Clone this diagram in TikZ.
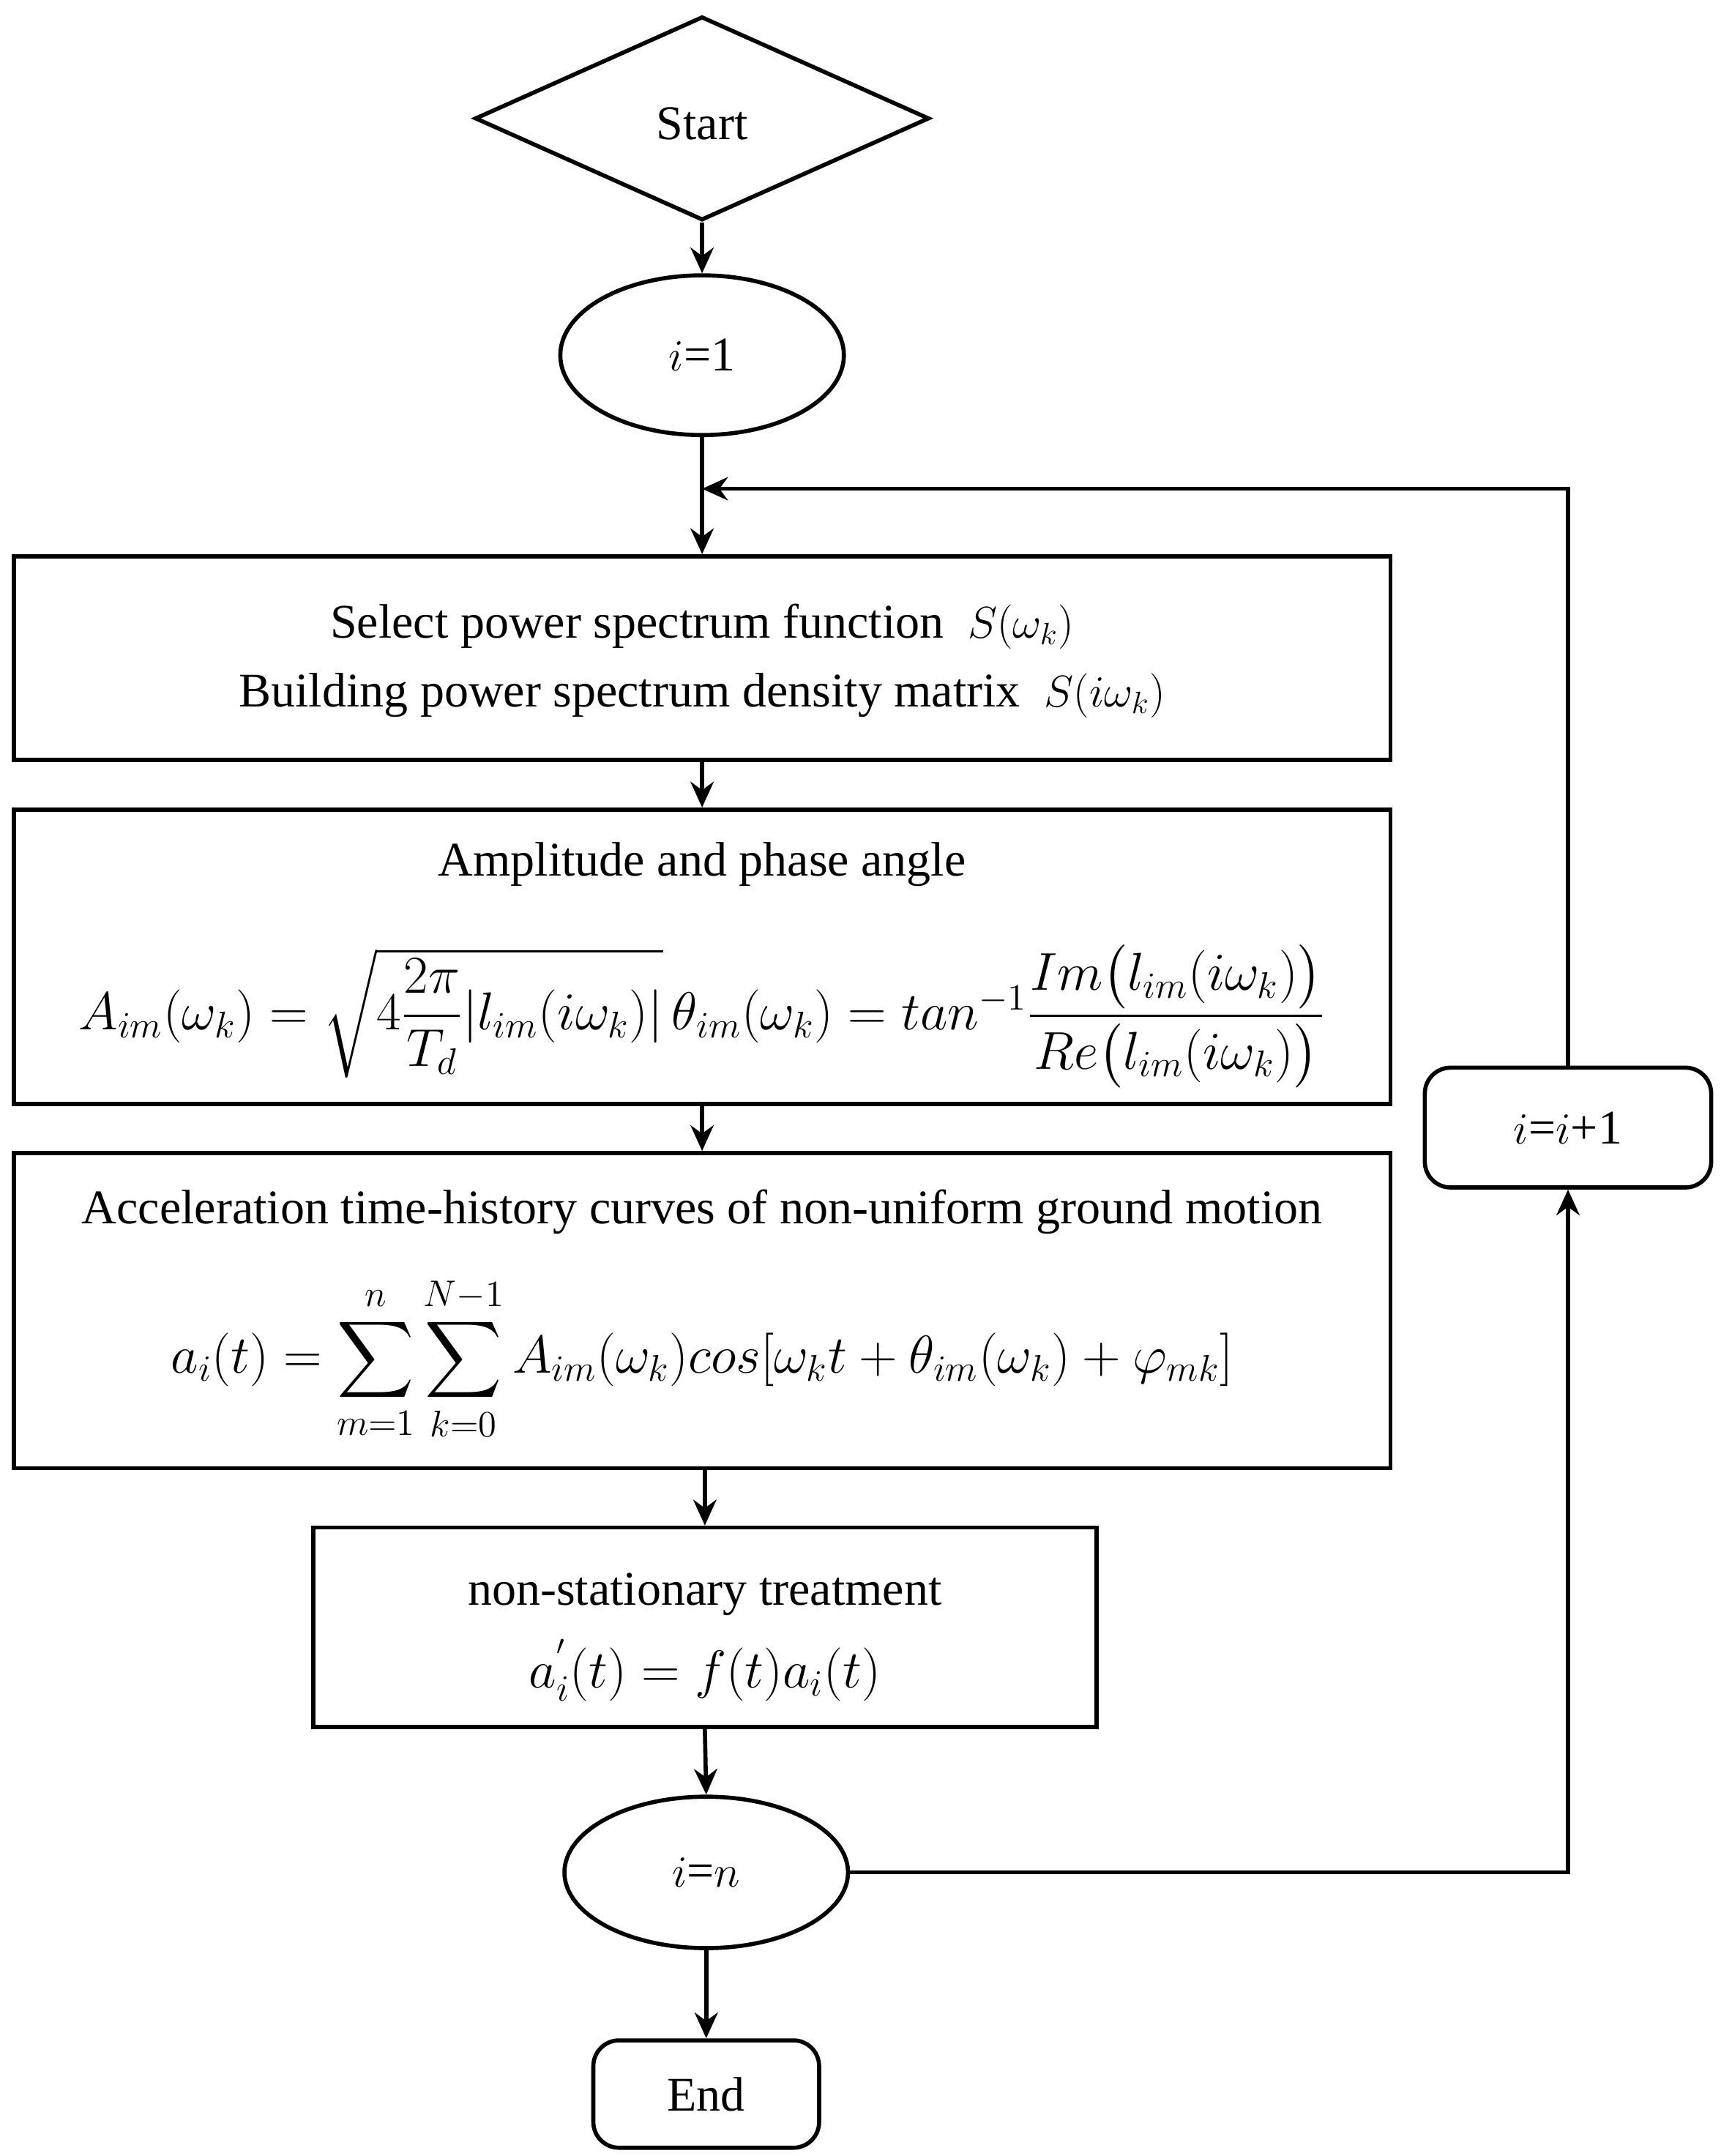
\documentclass[tikz,border=0pt]{standalone}
\usepackage{amsmath}
\usepackage{fontspec}
\setmainfont{Liberation Serif}
\usetikzlibrary{shapes.geometric,arrows.meta}
\begin{document}
\begin{tikzpicture}[x=0.01881cm,y=-0.01881cm,
 every node/.style={font=\fontsize{18.8}{24}\selectfont},
 box/.style={draw,line width=1.6pt,inner sep=0pt},
 ln/.style={line width=1.6pt},
 ar/.style={ln,-{Stealth[length=10pt,width=9pt]}},
 mf/.style={font=\fontsize{21.5}{26}\selectfont}]
\useasboundingbox (0,0) rectangle (1250,1566);
\node[box,diamond,minimum width=330*0.01881cm,minimum height=148*0.01881cm,aspect=2.2] (start) at (510,86) {};
\node at (510,90) {Start};
\node[box,ellipse,minimum width=206*0.01881cm,minimum height=116*0.01881cm] (i1) at (510,258) {$i$=1};
\node[box,minimum width=1000*0.01881cm,minimum height=148*0.01881cm] (b1) at (510,478) {};
\node at (510,455) {Select power spectrum function \ $S(\omega_k)$};
\node at (510,505) {Building power spectrum density matrix \ $S(i\omega_k)$};
\node[box,minimum width=1000*0.01881cm,minimum height=214*0.01881cm] (b2) at (510,695) {};
\node at (510,628) {Amplitude and phase angle};
\node[mf] at (510,738) {$A_{im}(\omega_k)=\sqrt{4\dfrac{2\pi}{T_d}|l_{im}(i\omega_k)|}\,\theta_{im}(\omega_k)=tan^{-1}\dfrac{Im\big(l_{im}(i\omega_k)\big)}{Re\big(l_{im}(i\omega_k)\big)}$};
\node[box,minimum width=1000*0.01881cm,minimum height=229*0.01881cm] (b3) at (510,952) {};
\node at (510,880) {Acceleration time-history curves of non-uniform ground motion};
\node[mf] at (510,987) {$\displaystyle a_i(t)=\sum_{m=1}^{n}\sum_{k=0}^{N-1}A_{im}(\omega_k)cos[\omega_k t+\theta_{im}(\omega_k)+\varphi_{mk}]$};
\node[box,minimum width=569*0.01881cm,minimum height=145*0.01881cm] (b4) at (512,1182) {};
\node at (512,1158) {non-stationary treatment};
\node[mf] at (512,1213) {$a_i^{'}(t)=f(t)a_i(t)$};
\node[box,ellipse,minimum width=206*0.01881cm,minimum height=110*0.01881cm] (in) at (513,1360) {$i$=$n$};
\node[box,rounded corners=10pt,minimum width=164*0.01881cm,minimum height=78*0.01881cm] (end) at (513,1521) {End};
\node[box,rounded corners=10pt,minimum width=208*0.01881cm,minimum height=87*0.01881cm] (inc) at (1139,819) {$i$=$i$+1};
\coordinate (j) at (510,355);
\draw[ar] (start.south) -- (i1.north);
\draw[ar] (i1.south) -- (b1.north);
\draw[ar] (b1.south) -- (b2.north);
\draw[ar] (b2.south) -- (b3.north);
\draw[ar] (b3.south -| b4.north) -- (b4.north);
\draw[ar] (b4.south) -- (in.north);
\draw[ar] (in.south) -- (end.north);
\draw[ar] (in.east) -| (inc.south);
\draw[ar] (inc.north) |- (j);
\end{tikzpicture}
\end{document}
